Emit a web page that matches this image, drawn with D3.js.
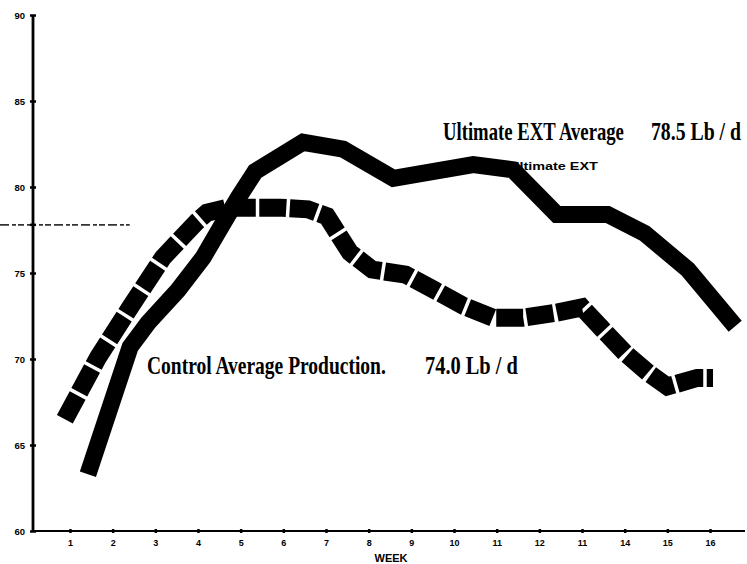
<!DOCTYPE html>
<html><head><meta charset="utf-8">
<script src="https://cdn.jsdelivr.net/npm/d3@7"></script>
<style>body{margin:0;background:#fff}svg{display:block}</style>
</head><body>
<svg id="c" width="747" height="564"></svg>
<script>
// ---- data ----
const weekTicks = [1,2,3,4,5,6,7,8,9,10,11,12,13,14,15,16];
const weekTickLabels = ["1","2","3","4","5","6","7","8","9","10","11","12","11","14","15","16"];
const yTicks = [60,65,70,75,80,85,90];
const ultimateWeeks  = [1.42,2.41,2.83,3.53,4.12,4.59,4.95,5.34,6.46,7.40,8.58,10.45,11.38,12.41,13.60,14.47,15.48,16.59];
const ultimateValues = [63.3,70.7,72.1,74.0,75.9,77.9,79.4,80.9,82.6,82.2,80.5,81.3,81.0,78.4,78.4,77.3,75.2,71.9];
const controlWeeks  = [0.88,1.66,2.41,3.18,3.98,4.21,4.70,5.92,6.58,7.02,7.56,8.08,8.87,9.55,10.21,10.91,11.62,12.41,13.0,13.49,14.01,14.55,15.0,15.7,16.07];
const controlValues = [66.5,70.1,73.0,75.9,78.0,78.5,78.8,78.8,78.7,78.3,76.2,75.2,74.9,74.0,73.1,72.4,72.4,72.7,73.0,71.7,70.35,69.2,68.4,68.9,68.9];
const referenceValue = 77.8;
const ultimateLabel = "Ultimate EXT Average";
const ultimateAvg = "78.5 Lb / d";
const controlLabel = "Control Average Production.";
const controlAvg = "74.0 Lb / d";
const seriesTag = "Ultimate EXT";
const xTitle = "WEEK";

// ---- scales ----
const svg = d3.select("#c");
const x = d3.scaleLinear().domain([0,17]).range([27.3,752.7]);
const y = d3.scaleLinear().domain([60,90]).range([531,15]);
const ink = "#000";

// squeeze a text horizontally into [x0,x1] using a transform
function fitText(txt,x0,x1,base,size,family){
  const g = svg.append("g");
  const t = g.append("text").attr("x",0).attr("y",0)
    .attr("font-family",family).attr("font-weight","bold")
    .attr("font-size",size).attr("fill",ink).text(txt);
  const w = t.node().getComputedTextLength();
  g.attr("transform",`translate(${x0},${base}) scale(${(x1-x0)/w},1)`);
  return g;
}
const SANS = "Liberation Sans, Arial, sans-serif";
const SERIF = "Liberation Serif, Times New Roman, serif";

// small series tag (drawn under the solid line)
fitText(seriesTag,509,598,170,11,SANS);

// reference dashed line
svg.append("line").attr("x1",0).attr("x2",x(2.4))
  .attr("y1",y(referenceValue)).attr("y2",y(referenceValue))
  .attr("stroke","#333").attr("stroke-width",1.6).attr("stroke-dasharray","9 3 4 2 6 3");

// axes
const xAxis = d3.axisBottom(x).tickValues(weekTicks).tickFormat((d,i)=>weekTickLabels[i]).tickSize(3).tickPadding(6);
const gx = svg.append("g").attr("transform",`translate(0,${y(60)})`).call(xAxis);
gx.select(".domain").remove();
gx.append("line").attr("x1",33).attr("x2",745).attr("y1",0).attr("y2",0).attr("stroke",ink).attr("stroke-width",2.2);
gx.selectAll(".tick line").attr("y1",-2).attr("y2",2).attr("stroke-width",2.5);
gx.selectAll(".tick text").attr("font-family",SANS)
  .attr("font-weight","bold").attr("font-size",9).attr("fill",ink);

const yAxis = d3.axisLeft(y).tickValues(yTicks).tickSize(3).tickPadding(5);
const gy = svg.append("g").attr("transform",`translate(33,0)`).call(yAxis);
gy.select(".domain").remove();
gy.append("line").attr("x1",0).attr("x2",0).attr("y1",y(90)).attr("y2",y(60)).attr("stroke",ink).attr("stroke-width",2.8);
gy.selectAll(".tick line").attr("x1",-3).attr("x2",3).attr("stroke-width",2.5);
gy.selectAll(".tick text").attr("font-family",SANS)
  .attr("font-weight","bold").attr("font-size",9.5).attr("fill",ink);
gy.append("line").attr("x1",-3).attr("x2",3).attr("y1",y(referenceValue)).attr("y2",y(referenceValue)).attr("stroke",ink).attr("stroke-width",2.5);

svg.append("text").attr("x",391).attr("y",562).attr("text-anchor","middle")
  .attr("font-family",SANS).attr("font-weight","bold")
  .attr("font-size",11).attr("fill",ink).text(xTitle);

// lines
const line = d3.line().x(d=>x(d[0])).y(d=>y(d[1])).curve(d3.curveLinear);
const controlData = controlWeeks.map((w,i)=>[w,controlValues[i]]);
const ultimateData = ultimateWeeks.map((w,i)=>[w,ultimateValues[i]]);

svg.append("path").attr("d",line(controlData)).attr("fill","none")
  .attr("stroke",ink).attr("stroke-width",18).attr("stroke-dasharray","27 3.5")
  .attr("stroke-linejoin","miter").attr("stroke-linecap","butt");
svg.append("path").attr("d",line(ultimateData)).attr("fill","none")
  .attr("stroke",ink).attr("stroke-width",17).attr("stroke-linejoin","miter").attr("stroke-miterlimit",3);

// annotations
fitText(ultimateLabel,443,624,140,25,SERIF);
fitText(ultimateAvg,651,741,140,25,SERIF);
fitText(controlLabel,147,386,374,25,SERIF);
fitText(controlAvg,425,518,374,25,SERIF);
</script>
</body></html>
